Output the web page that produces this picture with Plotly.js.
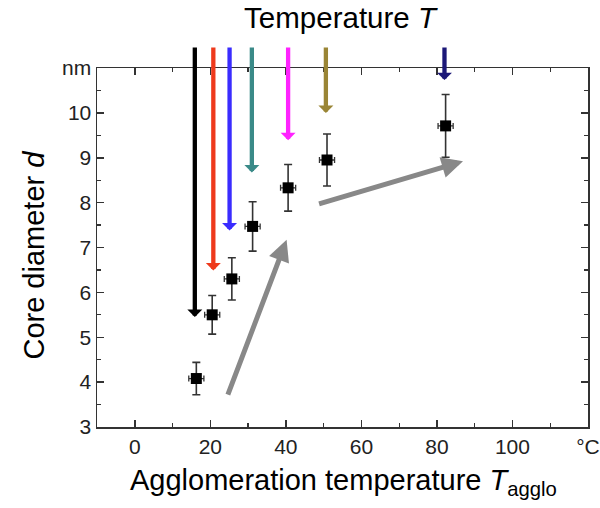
<!DOCTYPE html>
<html>
<head>
<meta charset="utf-8">
<script src="https://cdn.plot.ly/plotly-3.0.1.min.js"></script>
<style>html,body{margin:0;padding:0;background:#fff;}#chart{width:600px;height:508px;}</style>
</head>
<body>
<div id="chart"></div>
<script>
// Data points: agglomeration temperature (°C) vs core diameter (nm)
const aggloTemp = [16.3, 20.5, 25.7, 31.2, 40.6, 50.9, 82.3];
const coreDiam  = [4.08, 5.50, 6.30, 7.47, 8.33, 8.95, 9.71];
const diamErr   = [0.36, 0.43, 0.47, 0.55, 0.52, 0.58, 0.70];
const tempErr   = [2, 2, 2, 2, 2, 2, 2];

// Coloured "Temperature T" arrows
const arrowTemp   = [15.9, 20.8, 25.1, 31.0, 40.6, 50.6, 82.0];
const arrowEnd    = [5.45, 6.49, 7.38, 8.67, 9.39, 10.0, 10.73];
const arrowStart  = 11.49;
const arrowColors = ['#000000', '#ee3a1c', '#3a2cff', '#3a8a88', '#ff22ff', '#9a8535', '#1c1878'];

// Grey trend arrows
const trendX0 = [24.5, 48.4];
const trendY0 = [3.69, 7.96];
const trendX1 = [40.2, 86.9];
const trendY1 = [7.17, 8.92];

// Tick labels
const xTickVals = [0, 20, 40, 60, 80, 100, 120];
const xTickText = ['0', '20', '40', '60', '80', '100', '°C'];
const yTickVals = [3, 4, 5, 6, 7, 8, 9, 10, 11];
const yTickText = ['3', '4', '5', '6', '7', '8', '9', '10', 'nm'];

const FONT = 'Liberation Sans, Arial, sans-serif';

const traces = [{
  type: 'scatter',
  mode: 'markers',
  x: aggloTemp,
  y: coreDiam,
  marker: {symbol: 'square', size: 11, color: '#000000'},
  error_y: {type: 'data', array: diamErr, visible: true, color: '#333333', thickness: 1.6, width: 4},
  error_x: {type: 'data', array: tempErr, visible: true, color: '#333333', thickness: 1.3, width: 3},
  showlegend: false,
  hoverinfo: 'x+y'
}];

const annotations = [];
arrowTemp.forEach((t, i) => {
  annotations.push({
    x: t, y: arrowEnd[i], xref: 'x', yref: 'y',
    ax: t, ay: arrowStart, axref: 'x', ayref: 'y',
    text: '', showarrow: true,
    arrowhead: 1, arrowsize: 0.58, arrowwidth: 4.3,
    arrowcolor: arrowColors[i]
  });
});
trendX0.forEach((x0, i) => {
  annotations.push({
    x: trendX1[i], y: trendY1[i], xref: 'x', yref: 'y',
    ax: x0, ay: trendY0[i], axref: 'x', ayref: 'y',
    text: '', showarrow: true,
    arrowhead: 2, arrowsize: 0.85, arrowwidth: 5,
    arrowcolor: '#888888'
  });
});
annotations.push({
  text: 'Core diameter <i>d</i>', textangle: -90,
  xref: 'paper', yref: 'paper', x: -0.128, y: 0.478,
  xanchor: 'center', yanchor: 'middle', showarrow: false,
  font: {family: FONT, size: 29, color: '#000000'}
});
annotations.push({
  text: 'Agglomeration temperature <i>T</i><sub>agglo</sub>',
  xref: 'paper', yref: 'paper', x: 0.502, y: -0.152,
  xanchor: 'center', yanchor: 'middle', showarrow: false,
  font: {family: FONT, size: 29, color: '#000000'}
});

const axisCommon = {
  showgrid: false, zeroline: false,
  showline: true, linecolor: '#333333', linewidth: 1.5,
  mirror: 'ticks', ticks: 'inside', ticklen: 7, tickwidth: 1.5, tickcolor: '#333333',
  tickfont: {family: FONT, size: 21, color: '#222222'},
  tickmode: 'array'
};

const layout = {
  width: 600, height: 508,
  margin: {l: 97, r: 12, t: 68, b: 81},
  paper_bgcolor: '#ffffff', plot_bgcolor: '#ffffff',
  font: {family: FONT},
  title: {
    text: 'Temperature <i>T</i>',
    font: {family: FONT, size: 29.5, color: '#000000'},
    xref: 'paper', x: 0.495, xanchor: 'center',
    yref: 'container', y: 0.966, yanchor: 'middle'
  },
  xaxis: Object.assign({}, axisCommon, {
    range: [-10, 120],
    tickvals: xTickVals, ticktext: xTickText,
    minor: {tickmode: 'linear', tick0: -10, dtick: 10, ticks: 'inside', ticklen: 4, tickwidth: 1.2, tickcolor: '#333333'}
  }),
  yaxis: Object.assign({}, axisCommon, {
    range: [3, 11],
    tickvals: yTickVals, ticktext: yTickText,
    minor: {tickmode: 'linear', tick0: 3, dtick: 0.5, ticks: 'inside', ticklen: 4, tickwidth: 1.2, tickcolor: '#333333'}
  }),
  annotations: annotations
};

Plotly.newPlot('chart', traces, layout, {displayModeBar: false, staticPlot: true});
</script>
</body>
</html>
